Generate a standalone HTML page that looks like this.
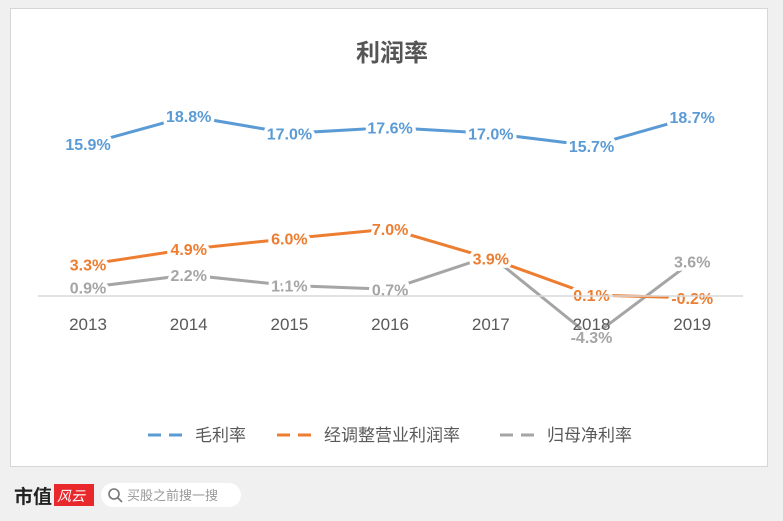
<!DOCTYPE html>
<html><head><meta charset="utf-8"><style>
body{margin:0;background:#f0f0f0;width:783px;height:521px;overflow:hidden;font-family:"Liberation Sans","Noto Sans CJK SC",sans-serif}
#panel{position:absolute;left:10px;top:8px;width:756px;height:457px;background:#fff;border:1px solid #d6d6d6}
</style></head><body>
<div id="panel"></div>
<svg id="chart" width="783" height="521" style="position:absolute;left:0;top:0">
<text x="392" y="61" text-anchor="middle" font-size="24" font-weight="bold" fill="#555">利润率</text>
<g id="lines"></g><g id="labels"></g><g id="xt"></g>
<line x1="38" x2="743" y1="296" y2="296" stroke="#d9d9d9" stroke-width="1.5"/>
<g font-size="17" fill="#595959">
<g><line x1="148" x2="190" y1="435" y2="435" stroke="#5b9bd5" stroke-width="3" stroke-dasharray="13,8"/><text x="195" y="441">毛利率</text></g>
<g><line x1="277" x2="319" y1="435" y2="435" stroke="#ed7d31" stroke-width="3" stroke-dasharray="13,8"/><text x="324" y="441">经调整营业利润率</text></g>
<g><line x1="500" x2="542" y1="435" y2="435" stroke="#a5a5a5" stroke-width="3" stroke-dasharray="13,8"/><text x="547" y="441">归母净利率</text></g>
</g>
<text x="14" y="503" font-size="19" font-weight="bold" fill="#222">市值</text>
<rect x="54" y="484" width="40" height="22" fill="#e8282b"/>
<text x="57" y="501" font-size="14" fill="#fff" font-style="italic">风云</text>
<rect x="101" y="483" width="140" height="24" rx="12" fill="#fff"/>
<circle cx="114" cy="494" r="5" fill="none" stroke="#777" stroke-width="1.6"/>
<line x1="118" y1="498" x2="122" y2="502" stroke="#777" stroke-width="1.6"/>
<text x="127" y="500" font-size="13" fill="#999">买股之前搜一搜</text>
</svg>
<script>
const years=["2013","2014","2015","2016","2017","2018","2019"];
const gross=[15.9,18.8,17.0,17.6,17.0,15.7,18.7];
const operating=[3.3,4.9,6.0,7.0,3.9,0.1,-0.2];
const net=[0.9,2.2,1.1,0.7,4.2,-4.3,3.6];
const grossLabels=["15.9%","18.8%","17.0%","17.6%","17.0%","15.7%","18.7%"];
const opLabels=["3.3%","4.9%","6.0%","7.0%","3.9%","0.1%","-0.2%"];
const netLabels=["0.9%","2.2%","1.1%","0.7%","4.2%","-4.3%","3.6%"];
const X=i=>88+i*100.7, Y=v=>296-v*9.57;
const NS="http://www.w3.org/2000/svg";
const lines=document.getElementById('lines'),labels=document.getElementById('labels'),xt=document.getElementById('xt');
years.forEach((y,i)=>{const t=document.createElementNS(NS,'text');


t.setAttribute('x',X(i));t.setAttribute('y',330);t.setAttribute('text-anchor','middle');t.setAttribute('font-size','17');t.setAttribute('fill','#595959');t.textContent=y;xt.appendChild(t);});
function series(vals,labs,color,name){
 const p=document.createElementNS(NS,'polyline');
 
 
 p.setAttribute('points',vals.map((v,i)=>X(i)+','+Y(v)).join(' '));
 p.setAttribute('fill','none');p.setAttribute('stroke',color);p.setAttribute('stroke-width','3');
 lines.appendChild(p);
 vals.forEach((v,i)=>{const t=document.createElementNS(NS,'text');
 
 
 t.setAttribute('x',X(i));t.setAttribute('y',Y(v)+6);t.setAttribute('text-anchor','middle');
 t.setAttribute('font-size','16');t.setAttribute('font-weight','bold');t.setAttribute('fill',color);
 t.setAttribute('stroke','#fff');t.setAttribute('stroke-width','7');t.setAttribute('stroke-linejoin','round');t.setAttribute('paint-order','stroke');
 t.textContent=labs[i];labels.appendChild(t);});
}
series(gross,grossLabels,'#5b9bd5','gross-margin');
series(net,netLabels,'#a5a5a5','net-margin');
series(operating,opLabels,'#ed7d31','operating-margin');
</script>
</body></html>
